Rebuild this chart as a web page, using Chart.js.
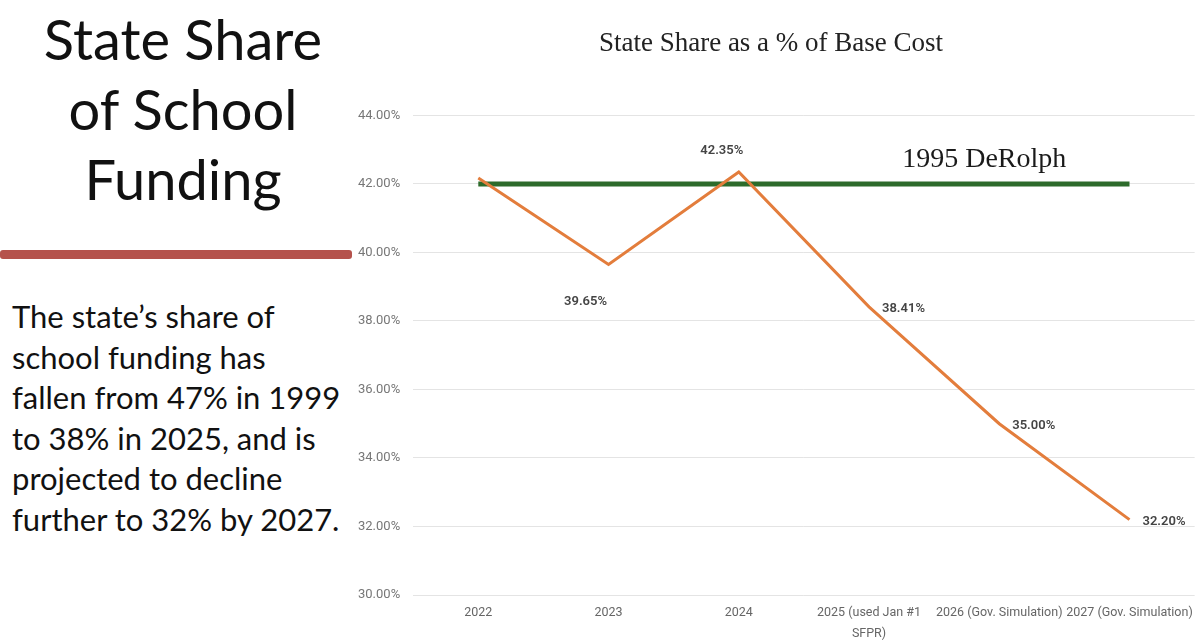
<!DOCTYPE html>
<html>
<head>
<meta charset="utf-8">
<script src="https://cdn.jsdelivr.net/npm/chart.js@4"></script>
<style>
  body { margin: 0; width: 1200px; height: 642px; background: #fff; position: relative; overflow: hidden; }
  .slideTitle { position: absolute; left: 0; top: 4px; width: 366px; text-align: center;
    font-family: Lato, sans-serif; font-size: 56px; line-height: 70px; color: #111; }
  .rule { position: absolute; left: 0; top: 250px; width: 352px; height: 9px; background: #b5524c; border-radius: 3px; }
  .blurb { position: absolute; left: 12px; top: 296px; width: 350px; white-space: nowrap;
    font-family: Lato, sans-serif; font-size: 31px; line-height: 40.5px; color: #111; }
  .chartBox { position: absolute; left: 350px; top: 0; width: 850px; height: 642px; }
</style>
</head>
<body>
<div class="slideTitle">State Share<br>of School<br>Funding</div>
<div class="rule"></div>
<div class="blurb">The state’s share of<br>school funding has<br>fallen from 47% in 1999<br>to 38% in 2025, and is<br>projected to decline<br>further to 32% by 2027.</div>
<div class="chartBox"><canvas id="chart"></canvas></div>
<script>
const years = ['2022', '2023', '2024', ['2025 (used Jan #1', 'SFPR)'], '2026 (Gov. Simulation)', '2027 (Gov. Simulation)'];
const stateShare = [42.17, 39.65, 42.35, 38.41, 35.00, 32.20];
const deRolph = [42, 42, 42, 42, 42, 42];
const shownLabels = [null, '39.65%', '42.35%', '38.41%', '35.00%', '32.20%'];

// where each point's value label sits
const labelSpots = [null, 'below', 'above', 'right', 'right', 'right'];

const labelPlugin = {
  id: 'pointLabels',
  afterDatasetsDraw(chart) {
    const ctx = chart.ctx;
    const pts = chart.getDatasetMeta(0).data;
    ctx.save();
    ctx.font = '600 13px Roboto, sans-serif';
    ctx.fillStyle = '#444';
    ctx.textBaseline = 'middle';
    pts.forEach((p, i) => {
      const txt = shownLabels[i];
      if (!txt) return;
      const spot = labelSpots[i];
      if (spot === 'above') { ctx.textAlign = 'center'; ctx.fillText(txt, p.x - 17, p.y - 21); }
      else if (spot === 'below') { ctx.textAlign = 'center'; ctx.fillText(txt, p.x - 23, p.y + 37); }
      else { ctx.textAlign = 'left'; ctx.fillText(txt, p.x + 13, p.y + 2); }
    });
    const g = chart.getDatasetMeta(1).data;
    ctx.font = '28px "Liberation Serif", serif';
    ctx.fillStyle = '#1a1a1a';
    ctx.textAlign = 'center';
    ctx.fillText('1995 DeRolph', g[4].x - 15, g[4].y - 24);
    ctx.restore();
  }
};

new Chart(document.getElementById('chart'), {
  type: 'line',
  data: {
    labels: years,
    datasets: [
      { label: 'State Share', data: stateShare, borderColor: '#e37d3c', borderWidth: 3,
        pointRadius: 0, tension: 0 },
      { label: '1995 DeRolph', data: deRolph, borderColor: '#2d6b2b', borderWidth: 5,
        pointRadius: 0, tension: 0 }
    ]
  },
  options: {
    responsive: true,
    maintainAspectRatio: false,
    animation: false,
    layout: { padding: { left: -5, right: 3, top: 0, bottom: -9 } },
    plugins: {
      legend: { display: false },
      tooltip: { enabled: false },
      title: {
        display: true, text: 'State Share as a % of Base Cost', color: '#222',
        font: { family: '"Liberation Serif", serif', size: 27, weight: 'normal' },
        padding: { top: 28, bottom: 55 }
      }
    },
    scales: {
      x: {
        offset: true,
        grid: { display: false, drawTicks: false },
        border: { display: false },
        ticks: { color: '#666', font: { family: 'Roboto, sans-serif', size: 12.5, lineHeight: '21px' },
          maxRotation: 0, autoSkip: false, padding: 7 }
      },
      y: {
        min: 30, max: 44,
        grid: { color: '#e4e4e4', drawTicks: false },
        border: { display: false },
        ticks: { stepSize: 2, color: '#777', padding: 13,
          font: { family: 'Roboto, sans-serif', size: 13 },
          callback: v => v.toFixed(2) + '%' }
      }
    }
  },
  plugins: [labelPlugin]
});
</script>
</body>
</html>
